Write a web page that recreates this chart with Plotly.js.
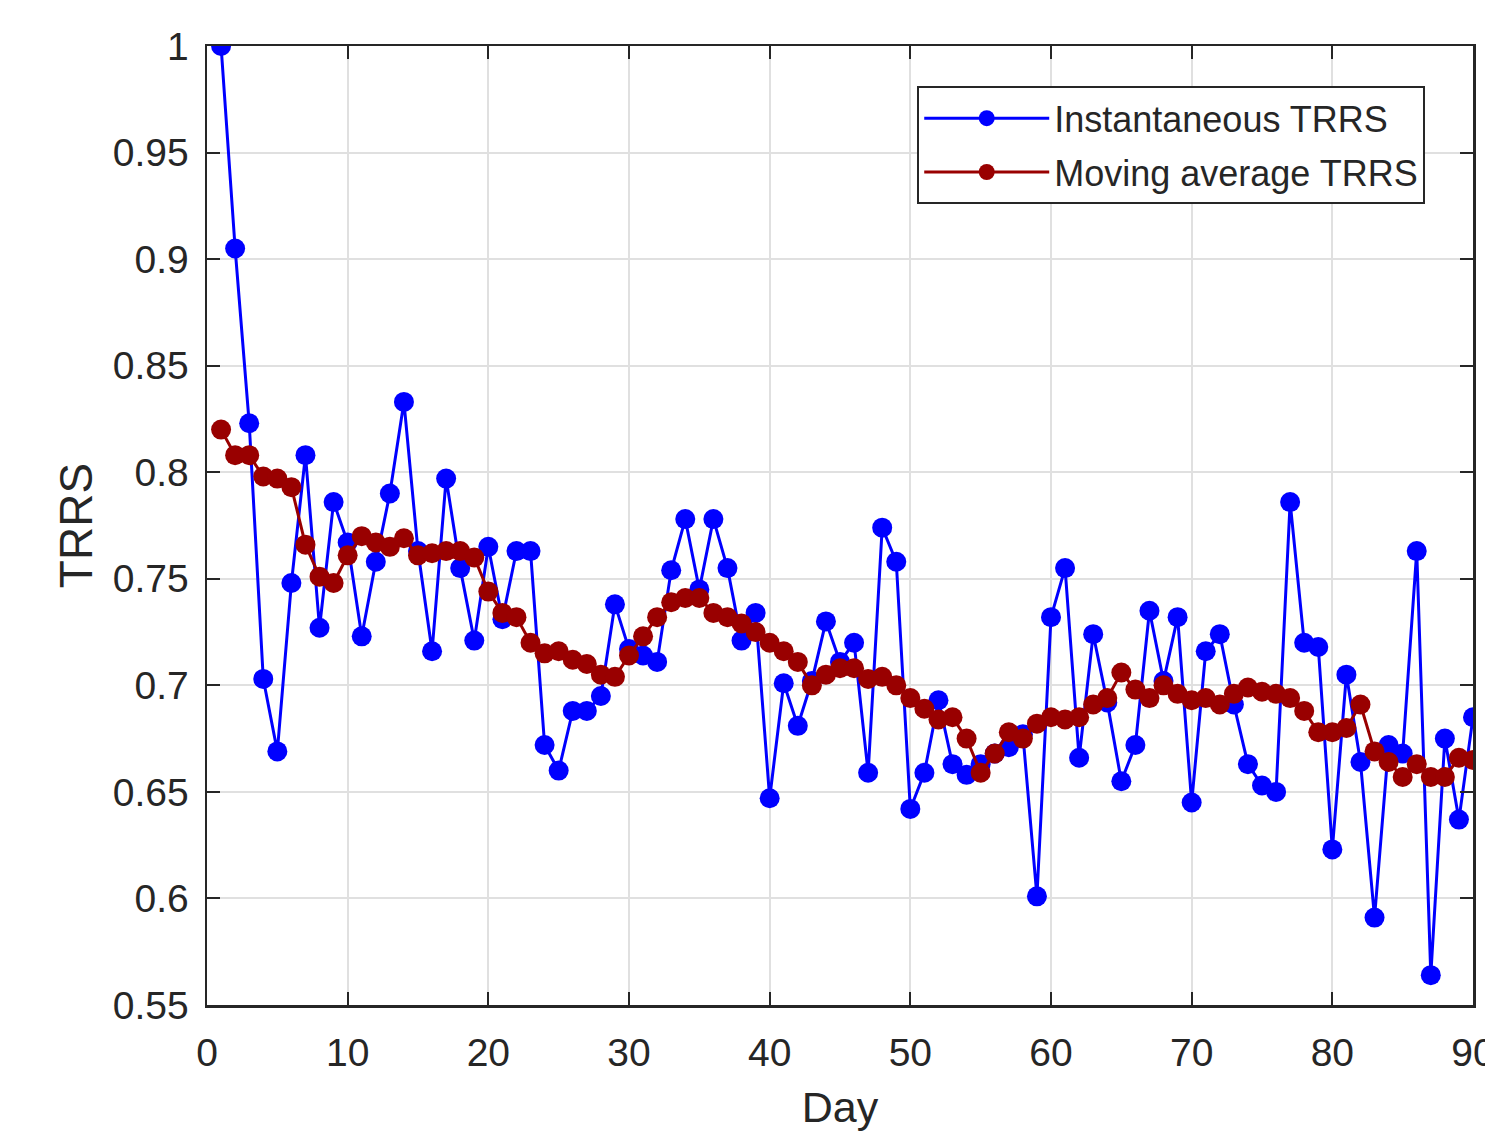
<!DOCTYPE html>
<html>
<head>
<meta charset="utf-8">
<script src="https://cdn.plot.ly/plotly-3.0.1.min.js"></script>
<style>html,body{margin:0;padding:0;background:#fff;overflow:hidden;}#chart{width:1485px;height:1131px;}</style>
</head>
<body>
<div id="chart"></div>
<script>
var days = [1,2,3,4,5,6,7,8,9,10,11,12,13,14,15,16,17,18,19,20,21,22,23,24,25,26,27,28,29,30,
  31,32,33,34,35,36,37,38,39,40,41,42,43,44,45,46,47,48,49,50,51,52,53,54,55,56,57,58,59,60,
  61,62,63,64,65,66,67,68,69,70,71,72,73,74,75,76,77,78,79,80,81,82,83,84,85,86,87,88,89,90];

var instantaneousTRRS = [1.000,0.905,0.823,0.703,0.669,0.748,0.808,0.727,0.786,0.767,
  0.723,0.758,0.790,0.833,0.763,0.716,0.797,0.755,0.721,0.765,
  0.731,0.763,0.763,0.672,0.660,0.688,0.688,0.695,0.738,0.717,
  0.714,0.711,0.754,0.778,0.745,0.778,0.755,0.721,0.734,0.647,
  0.701,0.681,0.702,0.730,0.711,0.720,0.659,0.774,0.758,0.642,
  0.659,0.693,0.663,0.658,0.663,0.668,0.671,0.677,0.601,0.732,
  0.755,0.666,0.724,0.692,0.655,0.672,0.735,0.702,0.732,0.645,
  0.716,0.724,0.691,0.663,0.653,0.650,0.786,0.720,0.718,0.623,
  0.705,0.664,0.591,0.672,0.668,0.763,0.564,0.675,0.637,0.685];

var movingAverageTRRS = [0.820,0.808,0.808,0.798,0.797,0.793,0.766,0.751,0.748,0.761,
  0.770,0.767,0.765,0.769,0.761,0.762,0.763,0.763,0.760,0.744,
  0.734,0.732,0.720,0.715,0.716,0.712,0.710,0.705,0.704,0.714,
  0.723,0.732,0.739,0.741,0.741,0.734,0.732,0.729,0.725,0.720,
  0.716,0.711,0.700,0.705,0.708,0.708,0.703,0.704,0.700,0.694,
  0.689,0.684,0.685,0.675,0.659,0.668,0.678,0.675,0.682,0.685,
  0.684,0.685,0.691,0.694,0.706,0.698,0.694,0.700,0.696,0.693,
  0.694,0.691,0.696,0.699,0.697,0.696,0.694,0.688,0.678,0.678,
  0.680,0.691,0.669,0.664,0.657,0.663,0.657,0.657,0.666,0.665];

var xTickVals = [0,10,20,30,40,50,60,70,80,90];
var xTickText = ['0','10','20','30','40','50','60','70','80','90'];
var yTickVals = [0.55,0.6,0.65,0.7,0.75,0.8,0.85,0.9,0.95,1];
var yTickText = ['0.55','0.6','0.65','0.7','0.75','0.8','0.85','0.9','0.95','1'];

var font = 'Liberation Sans, Arial, Helvetica, sans-serif';

var traces = [
  {x: days, y: instantaneousTRRS, type: 'scatter', mode: 'lines+markers',
   name: 'Instantaneous TRRS', legendgroup: 'a',
   line: {color: '#0000ff', width: 3},
   marker: {color: '#0000ff', size: 20, line: {width: 0}}},
  {x: days, y: movingAverageTRRS, type: 'scatter', mode: 'lines+markers',
   name: 'Moving average TRRS', legendgroup: 'b',
   line: {color: '#990000', width: 3},
   marker: {color: '#990000', size: 20, line: {width: 0}}}
];

var axisCommon = {
  showline: true, mirror: 'ticks', linecolor: '#262626', linewidth: 2.5,
  ticks: 'inside', ticklen: 13, tickwidth: 2, tickcolor: '#262626',
  showgrid: true, gridcolor: '#e0e0e0', gridwidth: 2,
  zeroline: false, tickfont: {family: font, size: 39, color: '#262626'},
  ticklabeloverflow: 'allow'
};

var layout = {
  width: 1485, height: 1131,
  margin: {l: 207, r: 12, t: 46, b: 126, pad: 0},
  paper_bgcolor: '#ffffff', plot_bgcolor: '#ffffff',
  showlegend: true,
  legend: {x: 0.561, y: 0.958, xanchor: 'left', yanchor: 'top',
    bgcolor: '#ffffff', bordercolor: '#262626', borderwidth: 2,
    font: {family: font, size: 36, color: '#262626'}, itemwidth: 125,
    traceorder: 'grouped', tracegroupgap: 4},
  xaxis: Object.assign({}, axisCommon, {
    range: [0, 90], tickmode: 'array', tickvals: xTickVals, ticktext: xTickText,
    ticklabelstandoff: 12,
    title: {text: 'Day', font: {family: font, size: 43, color: '#262626'}, standoff: 23}
  }),
  yaxis: Object.assign({}, axisCommon, {
    range: [0.55, 1], tickmode: 'array', tickvals: yTickVals, ticktext: yTickText,
    ticklabelstandoff: 8,
    title: {text: 'TRRS', font: {family: font, size: 46, color: '#262626'}, standoff: 6}
  })
};

Plotly.newPlot('chart', traces, layout, {staticPlot: true, displayModeBar: false});
</script>
</body>
</html>
